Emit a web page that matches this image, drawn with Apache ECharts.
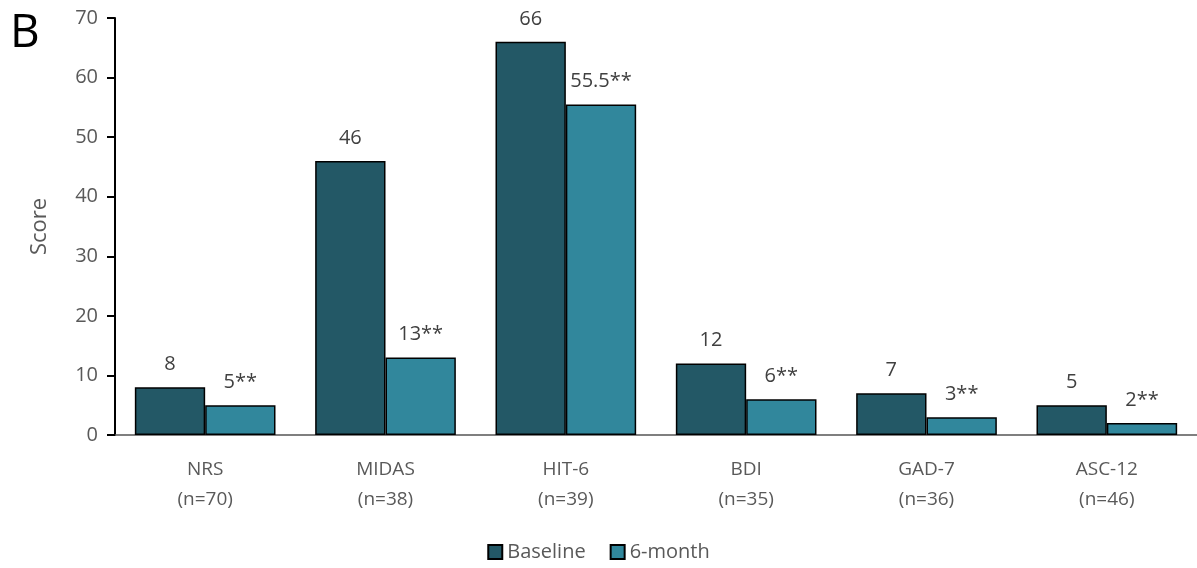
<!DOCTYPE html>
<html>
<head>
<meta charset="utf-8">
<script src="https://cdn.jsdelivr.net/npm/echarts@6/dist/echarts.min.js"></script>
<style>
  html, body { margin: 0; padding: 0; background: #fff; }
  #chart { width: 1197px; height: 568px; }
</style>
</head>
<body>
<div id="chart"></div>
<script>
// Score measures at baseline and after six months
const categories = ['NRS\n(n=70)', 'MIDAS\n(n=38)', 'HIT-6\n(n=39)', 'BDI\n(n=35)', 'GAD-7\n(n=36)', 'ASC-12\n(n=46)'];
const baseline = [8, 46, 66, 12, 7, 5];
const sixMonth = [5, 13, 55.5, 6, 3, 2];
const sixMonthMark = '**';
const yTicks = { min: 0, max: 70, interval: 10 };

const FONT = '"Open Sans", sans-serif';
const TEXT = '#595959';

const chart = echarts.init(document.getElementById('chart'), null, { renderer: 'canvas' });

chart.setOption({
  animation: false,
  textStyle: { fontFamily: FONT },
  graphic: [{
    type: 'text', left: 10, top: 11,
    style: { text: 'B', font: '46px ' + FONT, fill: '#000' }
  }],
  legend: {
    bottom: 1, left: 'center',
    itemWidth: 14, itemHeight: 14, itemGap: 24,
    icon: 'rect',
    textStyle: { fontSize: 20, color: TEXT, fontFamily: FONT },
    data: ['Baseline', '6-month']
  },
  grid: { left: 115, right: 0, top: 18, bottom: 133, containLabel: false },
  xAxis: {
    type: 'category',
    data: categories,
    axisLine: { show: true, lineStyle: { color: '#555', width: 1.5 } },
    axisTick: { show: false },
    axisLabel: { color: TEXT, fontSize: 19, lineHeight: 30, margin: 20, fontFamily: FONT }
  },
  yAxis: {
    type: 'value',
    min: yTicks.min, max: yTicks.max, interval: yTicks.interval,
    name: 'Score', nameLocation: 'middle', nameGap: 64, nameRotate: 90,
    nameTextStyle: { color: TEXT, fontSize: 22, fontFamily: FONT },
    axisLine: { show: true, lineStyle: { color: '#000', width: 2 } },
    axisTick: { show: true, length: 8, lineStyle: { color: '#000', width: 2 } },
    axisLabel: { color: TEXT, fontSize: 20, margin: 17, fontFamily: FONT },
    splitLine: { show: false }
  },
  series: [
    {
      name: 'Baseline', type: 'bar', data: baseline,
      barGap: '0%', barCategoryGap: '22%',
      itemStyle: { color: '#235866', borderColor: '#000', borderWidth: 1.5 },
      label: { show: true, position: 'top', distance: 13, color: '#404040', fontSize: 20, fontFamily: FONT }
    },
    {
      name: '6-month', type: 'bar', data: sixMonth,
      itemStyle: { color: '#31879c', borderColor: '#000', borderWidth: 1.5 },
      label: {
        show: true, position: 'top', distance: 13, color: '#404040', fontSize: 20, fontFamily: FONT,
        formatter: p => p.value + sixMonthMark
      }
    }
  ]
});
</script>
</body>
</html>
